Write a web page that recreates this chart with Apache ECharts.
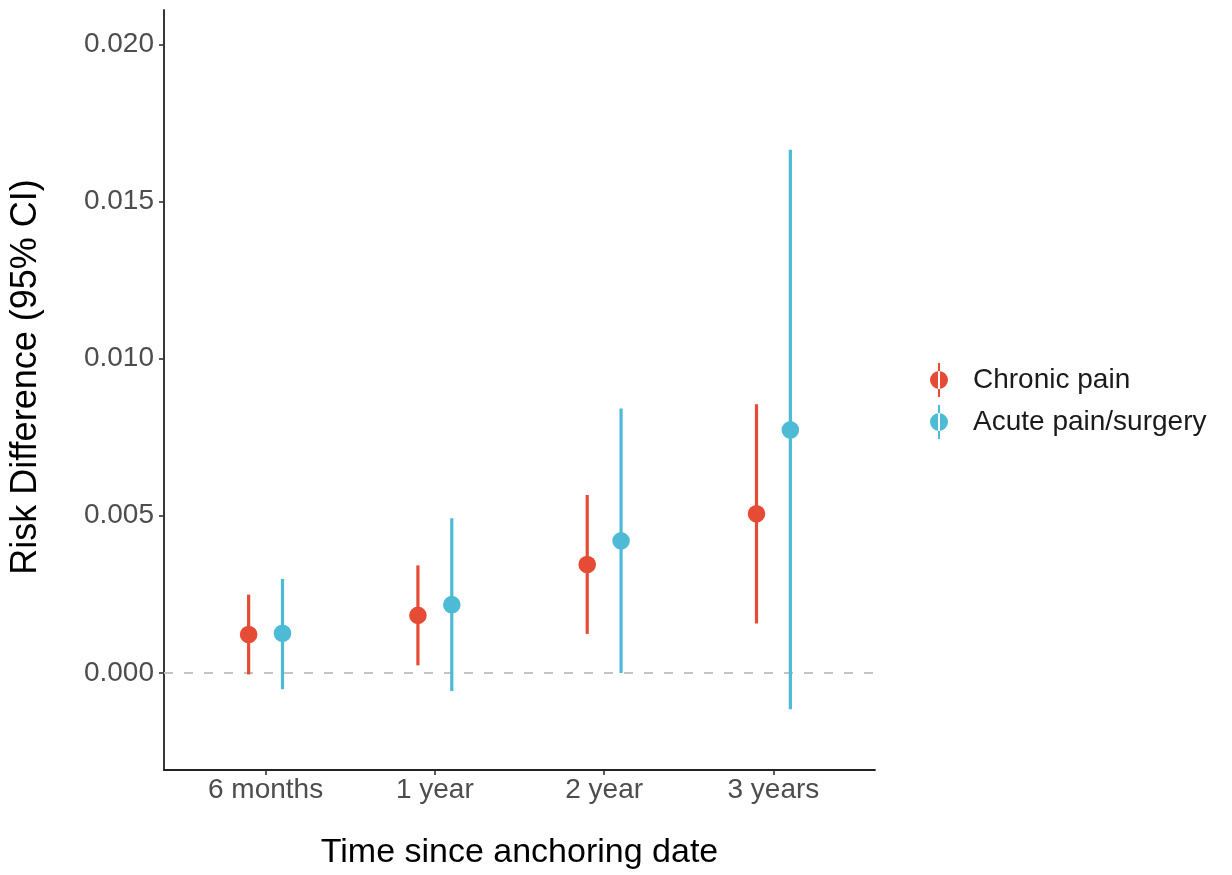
<!DOCTYPE html>
<html>
<head>
<meta charset="utf-8">
<script src="https://cdn.jsdelivr.net/npm/echarts@6/dist/echarts.min.js"></script>
<style>
html,body{margin:0;padding:0;background:#fff;}
#chart{width:1232px;height:875px;}
</style>
</head>
<body>
<div id="chart"></div>
<script>
const categories = ['6 months', '1 year', '2 year', '3 years'];
const chronicEst  = [0.00122, 0.00183, 0.00345, 0.00506];
const chronicLow  = [-0.00005, 0.00024, 0.00124, 0.00157];
const chronicHigh = [0.00249, 0.00342, 0.00566, 0.00855];
const acuteEst    = [0.00126, 0.00217, 0.00420, 0.00773];
const acuteLow    = [-0.00052, -0.00058, 0.00000, -0.00116];
const acuteHigh   = [0.00299, 0.00492, 0.00841, 0.01664];
const yTicks = [0, 0.005, 0.010, 0.015, 0.020];
const seriesNames = ['Chronic pain', 'Acute pain/surgery'];

const colors = ['#E64B35', '#4DBBD5'];
const dodge = 0.1;
const FONT = '"Liberation Sans", Arial, Helvetica, sans-serif';

function build(est, low, high, offset) {
  return categories.map((c, i) => [i + 1 + offset, est[i], low[i], high[i]]);
}

function makeRender(color) {
  return function (params, api) {
    const x = api.value(0);
    const p = api.coord([x, api.value(1)]);
    const lo = api.coord([x, api.value(2)]);
    const hi = api.coord([x, api.value(3)]);
    return {
      type: 'group',
      children: [
        { type: 'line', shape: { x1: lo[0], y1: lo[1], x2: hi[0], y2: hi[1] },
          style: { stroke: color, lineWidth: 3.2 } },
        { type: 'circle', shape: { cx: p[0], cy: p[1], r: 8.8 },
          style: { fill: color } }
      ]
    };
  };
}

const legendIcon = 'path://M8,0h2v34h-2z M0,17a9,9 0 1,0 18,0a9,9 0 1,0 -18,0z';

const chart = echarts.init(document.getElementById('chart'), null, { renderer: 'canvas' });
chart.setOption({
  animation: false,
  backgroundColor: '#ffffff',
  textStyle: { fontFamily: FONT },
  grid: { left: 162, right: 357, top: 10, bottom: 103, containLabel: false },
  legend: {
    orient: 'vertical',
    left: 925,
    top: 358,
    itemWidth: 18,
    itemHeight: 34,
    itemGap: 8,
    icon: legendIcon,
    textStyle: { fontSize: 28, color: '#1a1a1a', fontFamily: FONT, padding: [0, 0, 0, 20] },
    data: seriesNames.map((n, i) => ({ name: n, itemStyle: { color: colors[i] } }))
  },
  xAxis: {
    type: 'value',
    min: 0.4,
    max: 4.6,
    name: 'Time since anchoring date',
    nameLocation: 'middle',
    nameGap: 66,
    nameTextStyle: { fontSize: 34, color: '#000', fontFamily: FONT },
    axisLine: { show: true, onZero: false, lineStyle: { color: '#222', width: 1.8 } },
    axisTick: { show: true, length: 5, lineStyle: { color: '#333', width: 1.6 }, customValues: [1, 2, 3, 4] },
    axisLabel: {
      customValues: [1, 2, 3, 4],
      fontSize: 28, color: '#4D4D4D', margin: 6, fontFamily: FONT,
      formatter: v => categories[Math.round(v) - 1] || ''
    },
    splitLine: { show: false }
  },
  yAxis: {
    type: 'value',
    min: -0.00309,
    max: 0.02109,
    name: 'Risk Difference (95% CI)',
    nameLocation: 'middle',
    nameGap: 120,
    nameTextStyle: { fontSize: 36, color: '#000', fontFamily: FONT, padding: [0, 0, 0, 26] },
    axisLine: { show: true, onZero: false, lineStyle: { color: '#222', width: 1.8 } },
    axisTick: { show: true, length: 5, lineStyle: { color: '#333', width: 1.6 }, customValues: yTicks },
    axisLabel: {
      customValues: yTicks,
      fontSize: 28, color: '#4D4D4D', margin: 10, fontFamily: FONT,
      formatter: v => v.toFixed(3)
    },
    splitLine: { show: false }
  },
  series: [
    {
      name: seriesNames[0],
      type: 'custom',
      itemStyle: { color: colors[0] },
      renderItem: makeRender(colors[0]),
      encode: { x: 0, y: [1, 2, 3] },
      data: build(chronicEst, chronicLow, chronicHigh, -dodge),
      z: 3,
      markLine: {
        silent: true,
        symbol: 'none',
        label: { show: false },
        lineStyle: { color: '#C4C4C4', type: [9, 11], width: 2 },
        data: [{ yAxis: 0 }],
        z: 1
      }
    },
    {
      name: seriesNames[1],
      type: 'custom',
      itemStyle: { color: colors[1] },
      renderItem: makeRender(colors[1]),
      encode: { x: 0, y: [1, 2, 3] },
      data: build(acuteEst, acuteLow, acuteHigh, dodge),
      z: 3
    }
  ]
});
</script>
</body>
</html>
